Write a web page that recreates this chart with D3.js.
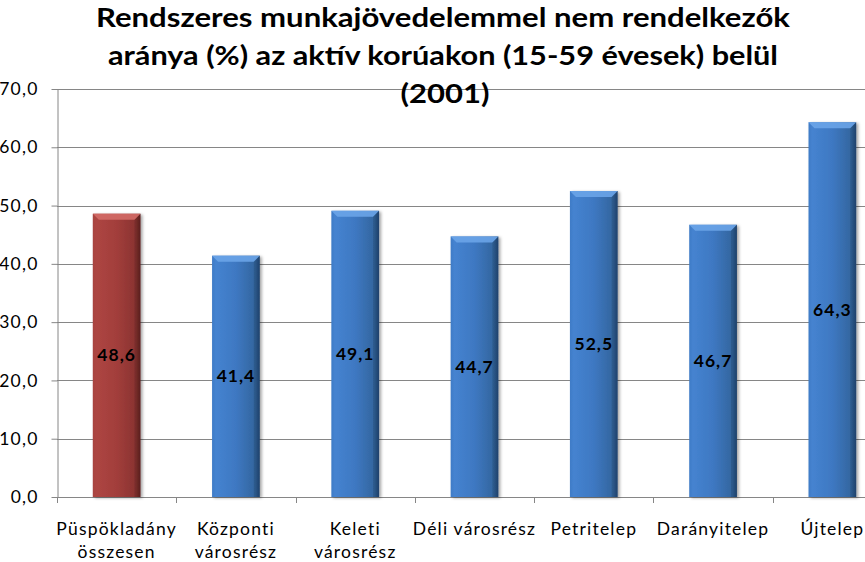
<!DOCTYPE html>
<html>
<head>
<meta charset="utf-8">
<script src="https://cdn.jsdelivr.net/npm/d3@7"></script>
<style>
  html, body { margin: 0; padding: 0; background: #fff; }
  svg { display: block; font-family: Lato, "Open Sans", sans-serif; }
</style>
</head>
<body>
<svg id="chart" width="865" height="562"></svg>
<script>
const titleLines = ["Rendszeres munkajövedelemmel nem rendelkezők", "aránya (%) az aktív korúakon (15-59 évesek) belül", "(2001)"];
const categories = ["Püspökladány összesen", "Központi városrész", "Keleti városrész", "Déli városrész", "Petritelep", "Darányitelep", "Újtelep"];
const categoryLines = [["Püspökladány", "összesen"], ["Központi", "városrész"], ["Keleti", "városrész"], ["Déli városrész"], ["Petritelep"], ["Darányitelep"], ["Újtelep"]];
const values = [48.6, 41.4, 49.1, 44.7, 52.5, 46.7, 64.3];
const highlight = [true, false, false, false, false, false, false];
const yTicks = [0, 10, 20, 30, 40, 50, 60, 70];

(function () {
const svg = d3.select("#chart");
const pL = 57, pR = 892, pT = 89, pB = 497;

const x = d3.scaleBand().domain(categories).range([pL, pR]).paddingInner(0.6).paddingOuter(0.3);
const y = d3.scaleLinear().domain([0, 70]).range([pB, pT]);
const fmt = v => d3.format(".1f")(v).replace(".", ",");

const defs = svg.append("defs");
function grad(id, stops) {
  const g = defs.append("linearGradient").attr("id", id).attr("x1", "0").attr("x2", "1").attr("y1", "0").attr("y2", "0");
  stops.forEach(([o, c]) => g.append("stop").attr("offset", o).attr("stop-color", c));
}
grad("gBlue", [[0, "#3f7bc6"], [0.08, "#4583d0"], [0.5, "#3e78c2"], [0.9, "#33669f"], [1, "#234a7a"]]);
grad("gRed", [[0, "#a84340"], [0.08, "#ad4542"], [0.5, "#a23e3b"], [0.9, "#8a3331"], [1, "#662422"]]);
const f = defs.append("filter").attr("id", "shadow").attr("x", "-20%").attr("y", "-5%").attr("width", "150%").attr("height", "115%");
f.append("feDropShadow").attr("dx", 2).attr("dy", 1).attr("stdDeviation", 1.5).attr("flood-color", "#000").attr("flood-opacity", 0.35);

// gridlines
svg.append("g").selectAll("line").data(yTicks.slice(1)).join("line")
  .attr("x1", pL).attr("x2", 865)
  .attr("y1", d => Math.round(y(d)) + 0.5).attr("y2", d => Math.round(y(d)) + 0.5)
  .attr("stroke", "#868686").attr("stroke-width", 1);

// y axis
const yAxis = svg.append("g").attr("transform", `translate(${pL + 0.5},0)`)
  .call(d3.axisLeft(y).tickValues(yTicks).tickFormat(fmt).tickSize(6).tickSizeOuter(0));
yAxis.select(".domain").attr("stroke", "#868686");
yAxis.selectAll(".tick line").attr("stroke", "#868686");
yAxis.selectAll(".tick text").attr("font-size", 17.5).attr("letter-spacing", 1.2).attr("fill", "#000").attr("x", -19).attr("font-family", "Lato, sans-serif");

// x axis baseline + ticks
const xg = svg.append("g");
xg.append("line").attr("x1", pL).attr("x2", 865).attr("y1", Math.round(y(0)) + 0.5).attr("y2", Math.round(y(0)) + 0.5).attr("stroke", "#868686");
const step = x.step();
xg.selectAll("line.t").data(d3.range(categories.length + 1)).join("line").attr("class", "t")
  .attr("x1", i => Math.round(pL + i * step) + 0.5).attr("x2", i => Math.round(pL + i * step) + 0.5)
  .attr("y1", Math.round(y(0))).attr("y2", Math.round(y(0)) + 6).attr("stroke", "#868686");

// bars
const bars = svg.append("g").selectAll("g").data(categories).join("g");
bars.append("rect")
  .attr("x", d => x(d)).attr("width", x.bandwidth())
  .attr("y", (d, i) => y(values[i])).attr("height", (d, i) => y(0) - y(values[i]))
  .attr("fill", (d, i) => highlight[i] ? "url(#gRed)" : "url(#gBlue)")
  .attr("filter", "url(#shadow)");
const bev = 6;
bars.append("path")
  .attr("d", (d, i) => {
    const x0 = x(d), x1 = x(d) + x.bandwidth(), yy = y(values[i]);
    return `M${x0},${yy}L${x1},${yy}L${x1 - bev},${yy + bev}L${x0 + bev},${yy + bev}Z`;
  })
  .attr("fill", (d, i) => highlight[i] ? "#d36b67" : "#6aa4e8").attr("opacity", 0.9);
bars.append("path")
  .attr("d", (d, i) => {
    const x1 = x(d) + x.bandwidth(), yy = y(values[i]);
    return `M${x1},${yy}L${x1 - bev},${yy + bev}L${x1 - bev},${y(0)}L${x1},${y(0)}Z`;
  })
  .attr("fill", "#000").attr("opacity", 0.12);

// value labels
svg.append("g").selectAll("text").data(categories).join("text")
  .attr("x", d => x(d) + x.bandwidth() / 2)
  .attr("y", (d, i) => y(values[i] / 2))
  .attr("dy", "0.35em")
  .attr("text-anchor", "middle").attr("font-weight", "bold").attr("font-size", 17.5).attr("letter-spacing", 1).attr("fill", "#000")
  .text((d, i) => fmt(values[i]));

// category labels
const cl = svg.append("g").selectAll("text").data(categories).join("text")
  .attr("text-anchor", "middle").attr("font-size", 17.5).attr("letter-spacing", 1.2).attr("fill", "#000");
cl.each(function(d, i) {
  const t = d3.select(this);
  categoryLines[i].forEach((ln, j) => {
    t.append("tspan").attr("x", x(d) + x.bandwidth() / 2).attr("y", 535 + j * 23).text(ln);
  });
});

// title
const titleWidths = [694, 670, 89];
svg.append("g").selectAll("text").data(titleLines).join("text")
  .attr("x", (d, i) => i === 2 ? 445 : 443).attr("y", (d, i) => 27 + i * 38)
  .attr("text-anchor", "middle").attr("font-weight", "bold").attr("font-size", 27).attr("fill", "#000")
  .attr("textLength", (d, i) => titleWidths[i]).attr("lengthAdjust", "spacingAndGlyphs")
  .text(d => d);
})();
</script>
</body>
</html>
